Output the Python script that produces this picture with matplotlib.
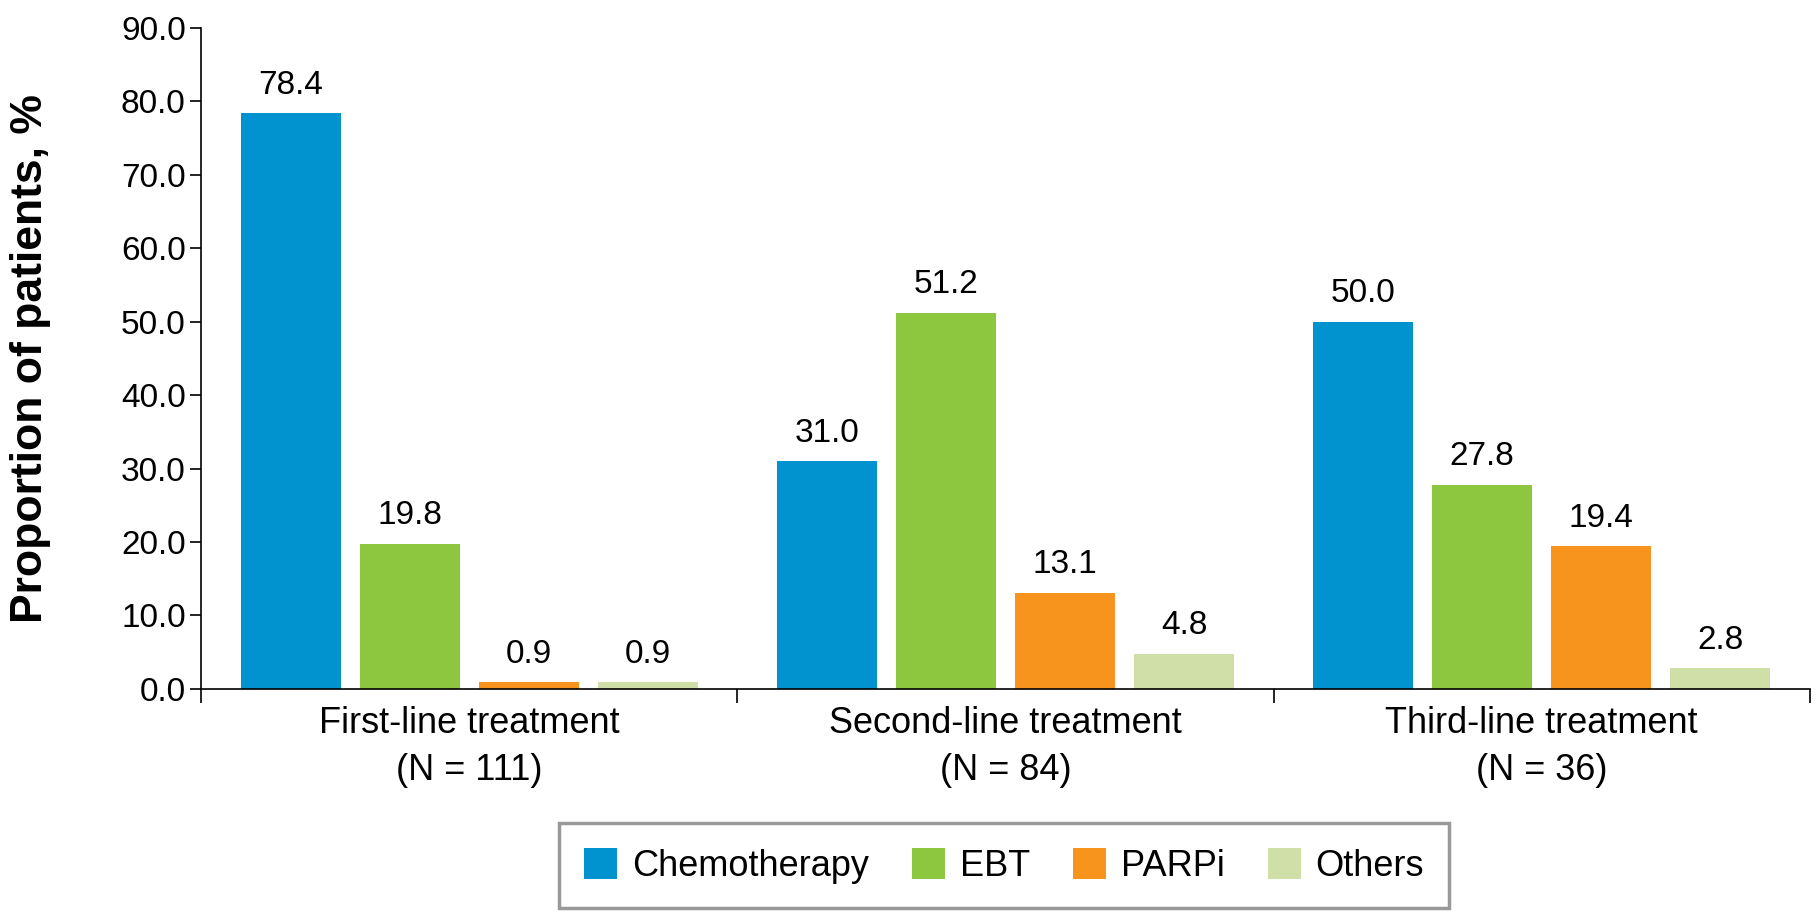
import matplotlib
matplotlib.use("Agg")
import matplotlib.pyplot as plt
import numpy as np
from matplotlib.patches import Patch

plt.rcParams['font.family'] = ['Liberation Sans', 'DejaVu Sans']

categories = ["First-line treatment\n(N = 111)", "Second-line treatment\n(N = 84)", "Third-line treatment\n(N = 36)"]
series_names = ["Chemotherapy", "EBT", "PARPi", "Others"]
chemotherapy = [78.4, 31.0, 50.0]
ebt = [19.8, 51.2, 27.8]
parpi = [0.9, 13.1, 19.4]
others = [0.9, 4.8, 2.8]
colors = ["#0093D0", "#8DC63F", "#F7941D", "#D0DFA8"]
yticks = [0, 10, 20, 30, 40, 50, 60, 70, 80, 90]

fig = plt.figure(figsize=(18.19, 9.21), dpi=100)
ax = fig.add_axes([0.1105, 0.252, 0.8845, 0.7176])

series = [chemotherapy, ebt, parpi, others]
x = np.arange(len(categories))
pitch = 0.222
width = 0.1866
for i, (vals, c) in enumerate(zip(series, colors)):
    pos = x + (i - 1.5) * pitch
    bars = ax.bar(pos, vals, width=width, color=c, zorder=2)
    for b, v in zip(bars, vals):
        ax.annotate(f"{v:.1f}", (b.get_x() + b.get_width() / 2, v),
                    xytext=(0, 9), textcoords="offset points",
                    ha="center", va="bottom", fontsize=24)

ax.set_xlim(-0.5, 2.5)
ax.set_ylim(0, 90)
ax.set_yticks(yticks)
ax.set_yticklabels([f"{t:.1f}" for t in yticks], fontsize=24)
ax.set_xticks([-0.5, 0.5, 1.5, 2.5])
ax.set_xticklabels([])
ax.set_xticks(x, minor=True)
ax.set_xticklabels(categories, minor=True, fontsize=26, linespacing=1.45)
ax.tick_params(axis='x', which='minor', length=0, pad=12)
ax.tick_params(axis='x', which='major', length=10, width=1.2, direction='out')
ax.tick_params(axis='y', length=8, width=1.2, pad=3)
for s in ['top', 'right']:
    ax.spines[s].set_visible(False)
for s in ['left', 'bottom']:
    ax.spines[s].set_linewidth(1.2)
fig.text(10 / 1819, 0.5 * (0.252 + 0.9696), "Proportion of patients, %", rotation=90,
         ha='left', va='center', fontsize=32, fontweight='bold')

handles = [Patch(facecolor=c, edgecolor='none', label=n) for c, n in zip(colors, series_names)]
leg = fig.legend(handles=handles, loc='center', bbox_to_anchor=(0.552, 0.06), ncol=4,
                 fontsize=26, frameon=True, fancybox=False, handlelength=0.9, handleheight=0.95,
                 handletextpad=0.42, columnspacing=1.2, borderpad=0.68, borderaxespad=0)
leg.get_frame().set_edgecolor('#808080')
leg.get_frame().set_linewidth(2.5)

fig.savefig("out.png", dpi=100)
